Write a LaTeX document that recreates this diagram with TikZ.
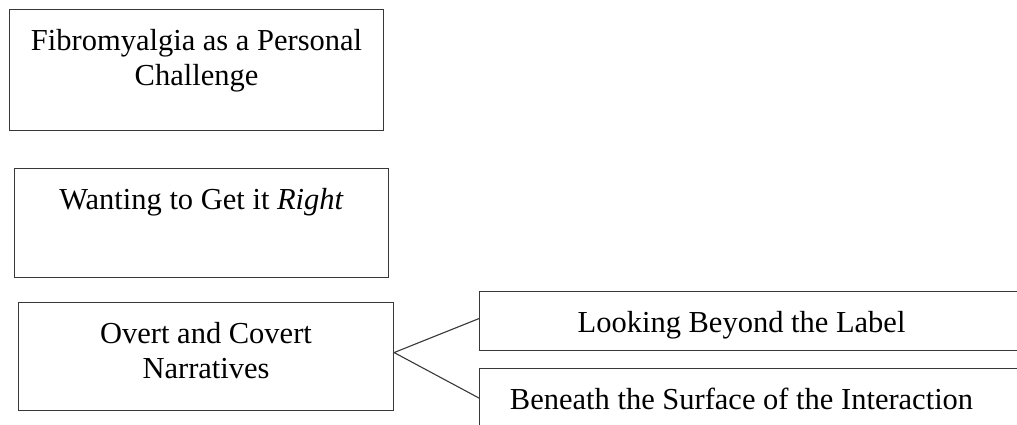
\documentclass[tikz,border=0pt]{standalone}
\usepackage{fontspec}
\setmainfont{Liberation Serif}
\usetikzlibrary{calc}

% One unit = 1pt; y grows downward.
\tikzset{
  x=1pt, y=-1pt,
  themebox/.style={draw=black!78, line width=1.1pt, inner sep=0pt, anchor=north west},
  link/.style={draw=black!78, line width=1.1pt},
}
% Box content: top-aligned block, first baseline 41pt below the top edge
\newcommand{\boxtext}[3]{\parbox[t][#2pt][t]{#1pt}{\centering\rule{0pt}{41pt}#3}}
\newcommand{\sidetext}[3]{\parbox[t][#2pt][t]{#1pt}{\rule{0pt}{41pt}#3}}

\begin{document}
\begin{tikzpicture}
\fontsize{30.5}{35}\selectfont
\useasboundingbox (0,0) rectangle (1017,424);
\clip (0,0) rectangle (1017,424);

\node[themebox] (fib) at (9,9)
  {\boxtext{374}{121}{Fibromyalgia as a Personal\\Challenge}};
\node[themebox] (right) at (14,168)
  {\boxtext{374}{109}{Wanting to Get it \textit{Right}}};
\node[themebox] (narr) at (18,302)
  {\boxtext{375}{108}{Overt and Covert\\Narratives}};

\node[themebox] (look) at (479,291)
  {\sidetext{560}{59}{\makebox[524pt]{Looking Beyond the Label}}};
\node[themebox] (surf) at (479,368)
  {\sidetext{560}{59}{\makebox[524pt]{Beneath the Surface of the Interaction}}};

\coordinate (fork) at ([yshift=4pt]narr.east);
\draw[link] ([yshift=2.5pt]look.west) -- (fork) -- (surf.west);
\end{tikzpicture}
\end{document}
